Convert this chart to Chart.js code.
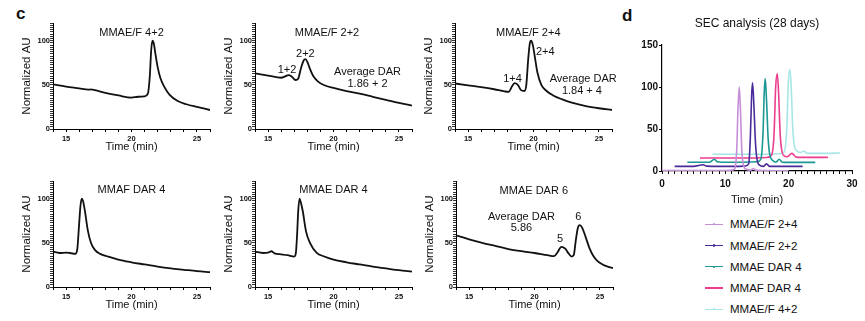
<!DOCTYPE html>
<html><head><meta charset="utf-8">
<script src="https://cdn.jsdelivr.net/npm/chart.js@4.4.1/dist/chart.umd.min.js"></script>
<style>
body{margin:0;background:#fff;width:865px;height:321px;overflow:hidden;position:relative;font-family:"Liberation Sans",Arial,sans-serif;color:#111;}
canvas{position:absolute;}
.plab{position:absolute;font-weight:bold;font-size:17px;line-height:17px;}
.leg{position:absolute;left:705px;height:16px;line-height:16px;white-space:nowrap;}
.sw{display:inline-block;width:18px;height:1.2px;vertical-align:middle;position:relative;}
.sw i{position:absolute;left:8px;top:-0.6px;width:2.4px;height:2.4px;border-radius:50%;}
.tx{display:inline-block;margin-left:7px;font-size:11.5px;vertical-align:middle;}
</style></head><body>
<div class="plab" style="left:16px;top:4.5px;">c</div>
<div class="plab" style="left:622px;top:6.5px;">d</div>
<script>
// ---------- data ----------
const p1Time  = [14, 15, 16, 16.7, 16.9, 17.2, 18, 19, 20, 20.5, 21.0, 21.25, 21.4, 21.5, 21.6, 21.7, 21.85, 22.0, 22.2, 22.5, 22.9, 23.5, 24.2, 25, 26];
const p1Value = [50.5, 48, 46, 44.5, 44.8, 44, 41, 38, 35.5, 36.5, 37, 40, 60, 88, 100, 97, 83, 70, 58, 48, 39, 32, 28, 25, 21.5];

const p2Time  = [14, 15, 16, 16.3, 16.55, 16.8, 17.1, 17.3, 17.5, 17.7, 17.85, 18.0, 18.2, 18.45, 18.8, 19.3, 20, 21, 22, 23, 24, 25, 26];
const p2Value = [63, 60.5, 58, 59.5, 61, 59.5, 55.5, 57, 68, 77, 79, 76, 68, 60, 54, 49.5, 46.5, 43, 40, 36.5, 33, 29.5, 26.5];

const p3Time  = [14, 15, 16, 17, 17.8, 18.1, 18.35, 18.55, 18.8, 19.05, 19.3, 19.45, 19.6, 19.72, 19.82, 19.95, 20.1, 20.3, 20.6, 21, 21.5, 22.2, 23, 24, 25, 26];
const p3Value = [51.5, 49.5, 47.5, 45, 42.5, 42, 48, 52, 50, 44, 43, 50, 80, 97, 100, 95, 82, 64, 50, 43, 38, 33.5, 29.5, 26, 23.5, 21.5];

const p4Time  = [14, 14.5, 15.0, 15.3, 15.7, 15.85, 16.0, 16.1, 16.2, 16.3, 16.45, 16.65, 16.9, 17.2, 17.6, 18.2, 19, 20, 21, 22, 23, 24, 25, 26];
const p4Value = [40, 38.5, 39, 38.5, 37.5, 42, 72, 92, 100, 97, 85, 65, 50, 42, 37.5, 34.5, 31, 28, 25.5, 23, 21, 19.5, 18, 16.8];

const p5Time  = [14, 14.6, 15.0, 15.25, 15.5, 16.0, 16.5, 17.0, 17.12, 17.22, 17.3, 17.4, 17.5, 17.65, 17.9, 18.2, 18.7, 19.3, 20, 21, 22, 23, 24, 25, 26];
const p5Value = [40, 38.5, 39, 40.5, 38, 37, 36, 34.5, 38, 60, 85, 100, 96, 86, 63, 50, 39, 34.5, 31, 28, 25.5, 23, 21, 19, 17.5];

const p6Time  = [14, 15, 16, 17, 18, 19, 20, 21, 21.5, 21.75, 22.05, 22.35, 22.6, 22.85, 23.0, 23.15, 23.3, 23.45, 23.65, 23.9, 24.2, 24.5, 24.8, 25.2, 25.6, 26];
const p6Value = [58.5, 54, 50, 46.5, 43, 40.5, 38.5, 36, 35, 39, 45.5, 43.5, 38, 34.5, 36, 52, 66, 70, 67, 57, 44, 35, 29.5, 25.5, 23, 21.5];

const panelTitles = ['MMAE/F 4+2', 'MMAE/F 2+2', 'MMAE/F 2+4', 'MMAF DAR 4', 'MMAE DAR 4', 'MMAE DAR 6'];

const secNames = ['MMAE/F 2+4', 'MMAE/F 2+2', 'MMAE DAR 4', 'MMAF DAR 4', 'MMAE/F 4+2'];
const sec1Time  = [0, 5, 10, 11, 11.5, 11.8, 12.0, 12.2, 12.4, 12.6, 12.9, 13.3, 14.0, 14.4, 14.8, 16, 18, 20];
const sec1Value = [0.5, 0.5, 0.5, 1, 3, 25, 75, 100, 70, 25, 6, 2, 1, 3, 1, 0.5, 0.3, 0.3];
const sec2Time  = [2, 5, 6.5, 7, 9, 12, 13.2, 13.7, 13.95, 14.15, 14.3, 14.5, 14.75, 15.0, 15.4, 16.0, 16.5, 17.0, 18, 20, 22.2];
const sec2Value = [5.5, 5.5, 7.5, 5.8, 5.5, 5.5, 6, 9, 40, 90, 105, 80, 35, 14, 7, 5.5, 8.5, 5.5, 5.5, 5.5, 5.5];
const sec3Time  = [4, 7.5, 8.3, 8.7, 9.5, 12, 15.0, 15.6, 15.95, 16.15, 16.3, 16.5, 16.75, 17.0, 17.4, 18.0, 18.5, 19.0, 20, 22, 24.2];
const sec3Value = [10.5, 10.5, 14, 11, 10.5, 10.5, 11, 14, 45, 95, 110, 85, 40, 20, 13, 10.5, 14, 10.5, 10.3, 10.3, 10.3];
const sec4Time  = [6, 10, 14, 16.5, 17.3, 17.7, 17.95, 18.2, 18.4, 18.65, 18.9, 19.3, 19.8, 20.5, 21.2, 22, 24, 26.2];
const sec4Value = [15.5, 15.5, 15.5, 16, 19, 45, 100, 116, 95, 45, 25, 18, 17, 21, 16.5, 16.2, 16.2, 16.2];
const sec5Time  = [8, 12, 16, 18.5, 19.3, 19.7, 19.95, 20.2, 20.4, 20.65, 20.9, 21.3, 21.8, 22.4, 23, 24, 26, 28.1];
const sec5Value = [20, 20, 20, 20.5, 23, 50, 105, 121, 100, 50, 30, 24, 22, 23.5, 21, 21, 21, 21.5];
const secTimes  = [sec1Time, sec2Time, sec3Time, sec4Time, sec5Time];
const secValues = [sec1Value, sec2Value, sec3Value, sec4Value, sec5Value];

// ---------- styles ----------
const FONT = '"Liberation Sans", Arial, sans-serif';
const secColors = ['#c58fd8', '#4a2b9b', '#1b9894', '#ec3d8e', '#a6e6e6'];

function notes(items) {
  return {
    id: 'notes',
    afterDatasetsDraw(chart) {
      const {ctx, scales: {x, y}} = chart;
      ctx.save();
      ctx.fillStyle = '#111'; ctx.textAlign = 'center'; ctx.textBaseline = 'middle';
      items.forEach(it => {
        ctx.font = (it.size || 11) + 'px ' + FONT;
        ctx.fillText(it.text, x.getPixelForValue(it.x), y.getPixelForValue(it.y));
      });
      ctx.restore();
    }
  };
}

function addCanvas(left, top, w, h) {
  const cv = document.createElement('canvas');
  cv.width = w; cv.height = h;
  cv.style.left = left + 'px'; cv.style.top = top + 'px';
  cv.style.width = w + 'px'; cv.style.height = h + 'px';
  document.body.appendChild(cv);
  return cv;
}

function smallChart(lx, ty, time, values, items) {
  const YW = 33, PT = 8, PR = 14, XH = 26, AW = 157, AH = 106;
  const cv = addCanvas(lx - YW, ty - PT, YW + AW + PR, PT + AH + XH);
  new Chart(cv, {
    type: 'line',
    data: {datasets: [{data: time.map((t, i) => ({x: t, y: values[i]})), borderColor: '#111', borderWidth: 1.8,
      pointRadius: 0, cubicInterpolationMode: 'monotone', fill: false}]},
    options: {
      responsive: false, animation: false, devicePixelRatio: 1,
      layout: {padding: {top: PT, right: PR, left: 0, bottom: 0}},
      plugins: {legend: {display: false}, tooltip: {enabled: false}},
      scales: {
        x: {type: 'linear', min: 14, max: 26,
          afterFit(s) { s.height = XH; s.paddingLeft = 0; s.paddingRight = 0; },
          border: {display: true, color: '#000', width: 1},
          grid: {display: true, drawOnChartArea: false, drawTicks: true, tickLength: 3, tickColor: '#000', tickWidth: 1},
          ticks: {stepSize: 1, autoSkip: false, maxRotation: 0, padding: 2, color: '#111',
            font: {family: FONT, size: 7.5, weight: 'bold'}, callback: v => (v % 5 === 0 ? String(v) : '')},
          title: {display: true, text: 'Time (min)', color: '#111', font: {family: FONT, size: 11}, padding: {top: 0, bottom: 1.5}}},
        y: {type: 'linear', min: 0, max: 120,
          afterFit(s) { s.width = YW; s.paddingTop = 0; s.paddingBottom = 0; },
          border: {display: true, color: '#000', width: 1},
          grid: {display: true, drawOnChartArea: false, drawTicks: true, tickLength: 3, tickColor: '#000', tickWidth: 0.8},
          ticks: {stepSize: 2.5, autoSkip: false, padding: 0, color: '#111',
            font: {family: FONT, size: 7.5, weight: 'bold'}, callback: v => (v % 50 === 0 ? String(v) : '')},
          title: {display: true, text: 'Normalized AU', color: '#111', font: {family: FONT, size: 11.5}, padding: {top: 0, bottom: 0}}}
      }
    },
    plugins: [notes(items)]
  });
}

smallChart(53, 23, p1Time, p1Value, [{text: panelTitles[0], x: 20.0, y: 108.5}]);
smallChart(255, 23, p2Time, p2Value, [
  {text: panelTitles[1], x: 19.5, y: 108.5},
  {text: '1+2', x: 16.45, y: 67}, {text: '2+2', x: 17.85, y: 84.5},
  {text: 'Average DAR', x: 22.6, y: 64.5}, {text: '1.86 + 2', x: 22.6, y: 51}]);
smallChart(455, 23, p3Time, p3Value, [
  {text: panelTitles[2], x: 19.6, y: 108.5},
  {text: '2+4', x: 20.9, y: 87}, {text: '1+4', x: 18.4, y: 56.6},
  {text: 'Average DAR', x: 23.8, y: 56.6}, {text: '1.84 + 4', x: 23.7, y: 43}]);
smallChart(53, 181, p4Time, p4Value, [{text: panelTitles[3], x: 20.0, y: 109.5}]);
smallChart(255, 181, p5Time, p5Value, [{text: panelTitles[4], x: 20.0, y: 109.5}]);
smallChart(456, 181, p6Time, p6Value, [
  {text: panelTitles[5], x: 19.95, y: 108.7},
  {text: 'Average DAR', x: 19.0, y: 79.3}, {text: '5.86', x: 19.0, y: 66.8},
  {text: '5', x: 21.95, y: 54.4}, {text: '6', x: 23.35, y: 79.3}]);

// ---------- panel d ----------
(function () {
  const YW = 30, PT = 33, PR = 10, XH = 36, AW = 190, AH = 126;
  const cv = addCanvas(662 - YW, 45 - PT, YW + AW + PR, PT + AH + XH);
  new Chart(cv, {
    type: 'line',
    data: {datasets: secNames.map((n, i) => ({label: n,
      data: secTimes[i].map((t, j) => ({x: t, y: secValues[i][j]})),
      borderColor: secColors[i], borderWidth: 1.6, pointRadius: 0, cubicInterpolationMode: 'monotone', fill: false}))},
    options: {
      responsive: false, animation: false, devicePixelRatio: 1,
      layout: {padding: {top: PT, right: PR, left: 0, bottom: 0}},
      plugins: {legend: {display: false}, tooltip: {enabled: false}},
      scales: {
        x: {type: 'linear', min: 0, max: 30,
          afterFit(s) { s.height = XH; s.paddingLeft = 0; s.paddingRight = 0; },
          border: {display: true, color: '#000', width: 1.2},
          grid: {display: true, drawOnChartArea: false, drawTicks: true, tickLength: 3, tickColor: '#000', tickWidth: 1},
          ticks: {stepSize: 1, autoSkip: false, maxRotation: 0, padding: 4, color: '#111',
            font: {family: FONT, size: 10, weight: 'bold'}, callback: v => (v % 10 === 0 ? String(v) : '')},
          title: {display: true, text: 'Time (min)', color: '#111', font: {family: FONT, size: 11}, padding: {top: 0, bottom: 0}}},
        y: {type: 'linear', min: 0, max: 150,
          afterFit(s) { s.width = YW; s.paddingTop = 0; s.paddingBottom = 0; },
          border: {display: true, color: '#000', width: 1.2},
          grid: {display: true, drawOnChartArea: false, drawTicks: true, tickLength: 3, tickColor: '#000', tickWidth: 1},
          ticks: {stepSize: 50, autoSkip: false, padding: 1, color: '#111',
            font: {family: FONT, size: 10, weight: 'bold'}}}
      }
    },
    plugins: [notes([{text: 'SEC analysis (28 days)', x: 15, y: 175, size: 12}])]
  });
  secNames.forEach((n, i) => {
    const row = document.createElement('div');
    row.className = 'leg';
    row.style.top = (223.5 + i * 21.25 - 8) + 'px';
    row.innerHTML = '<span class="sw" style="background:' + secColors[i] + '"><i style="background:' + secColors[i] + '"></i></span><span class="tx">' + n + '</span>';
    document.body.appendChild(row);
  });
})();
</script>
</body></html>
